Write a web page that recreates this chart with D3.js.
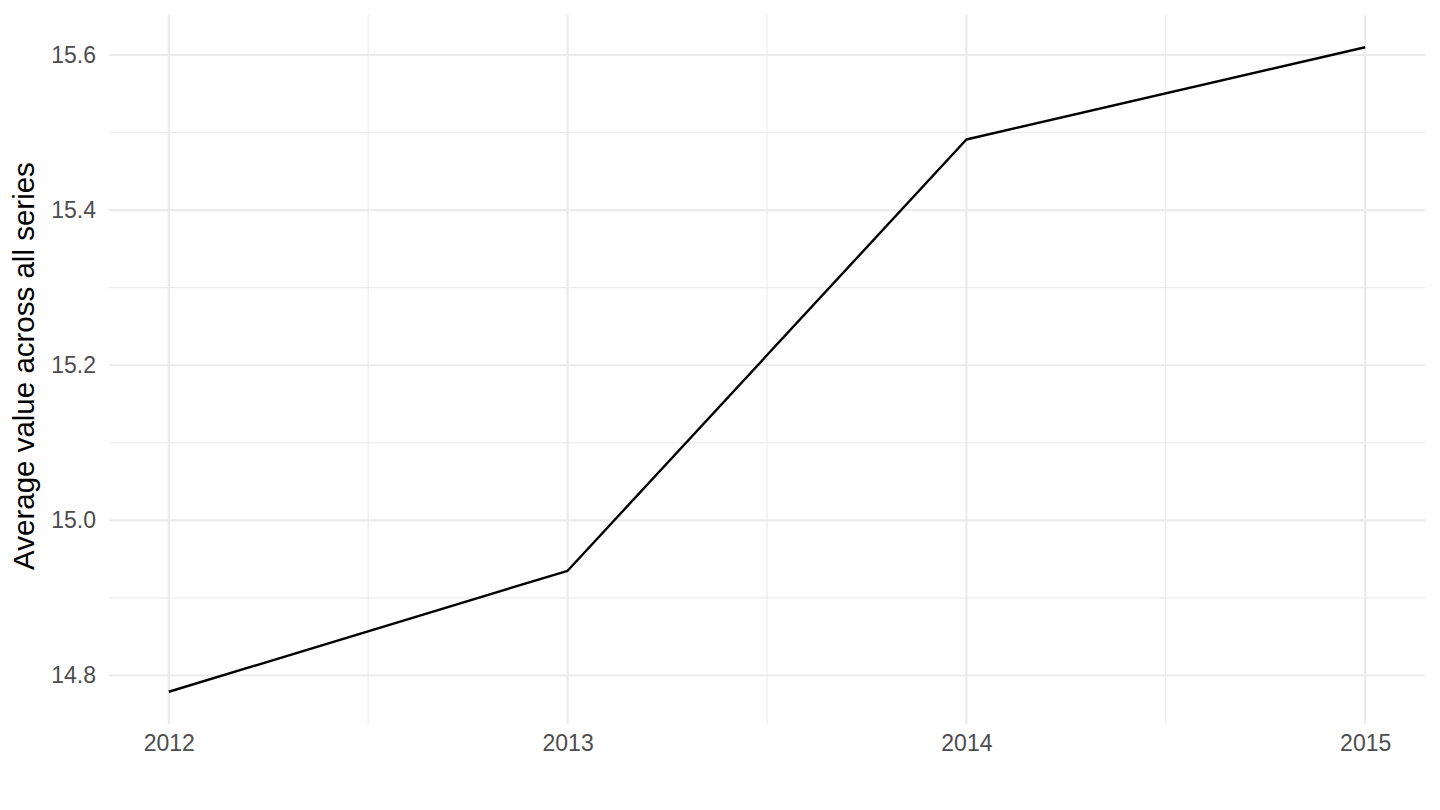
<!DOCTYPE html>
<html>
<head>
<meta charset="utf-8">
<script src="https://cdn.jsdelivr.net/npm/d3@7"></script>
<style>
  html, body { margin: 0; padding: 0; background: #fff; }
  svg { display: block; font-family: "Liberation Sans", Arial, sans-serif; }
</style>
</head>
<body>
<svg id="chart" width="1440" height="810"></svg>
<script>
const years = [2012, 2013, 2014, 2015];
const values = [14.779, 14.935, 15.491, 15.610];
const yTicks = [14.8, 15.0, 15.2, 15.4, 15.6];
const yMinor = [14.9, 15.1, 15.3, 15.5];
const xMinor = [2012.5, 2013.5, 2014.5];
const yLabel = "Average value across all series";

(function () {
const svg = d3.select("#chart");
const pLeft = 109, pRight = 1425, pTop = 15, pBottom = 724;

const xExt = d3.extent(years), xPad = (xExt[1] - xExt[0]) * 0.05;
const yExt = d3.extent(values), yPad = (yExt[1] - yExt[0]) * 0.05;
const x = d3.scaleLinear().domain([xExt[0] - xPad, xExt[1] + xPad]).range([pLeft, pRight]);
const y = d3.scaleLinear().domain([yExt[0] - yPad, yExt[1] + yPad]).range([pBottom, pTop]);

const g = svg.append("g");
// minor grid
g.selectAll(".ymin").data(yMinor).enter().append("line")
  .attr("x1", pLeft).attr("x2", pRight).attr("y1", d => y(d)).attr("y2", d => y(d))
  .attr("stroke", "#EBEBEB").attr("stroke-width", 1.1);
g.selectAll(".xmin").data(xMinor).enter().append("line")
  .attr("y1", pTop).attr("y2", pBottom).attr("x1", d => x(d)).attr("x2", d => x(d))
  .attr("stroke", "#EBEBEB").attr("stroke-width", 1.1);
// major grid
g.selectAll(".ymaj").data(yTicks).enter().append("line")
  .attr("x1", pLeft).attr("x2", pRight).attr("y1", d => y(d)).attr("y2", d => y(d))
  .attr("stroke", "#EBEBEB").attr("stroke-width", 2.2);
g.selectAll(".xmaj").data(years).enter().append("line")
  .attr("y1", pTop).attr("y2", pBottom).attr("x1", d => x(d)).attr("x2", d => x(d))
  .attr("stroke", "#EBEBEB").attr("stroke-width", 2.2);

// axes via d3 axis, with domain/ticks hidden
const yAxis = svg.append("g").attr("transform", `translate(${pLeft},0)`)
  .call(d3.axisLeft(y).tickValues(yTicks).tickFormat(d3.format(".1f")).tickSize(0).tickPadding(13));
const xAxis = svg.append("g").attr("transform", `translate(0,${pBottom})`)
  .call(d3.axisBottom(x).tickValues(years).tickFormat(d3.format("d")).tickSize(0).tickPadding(11));
[yAxis, xAxis].forEach(a => {
  a.select(".domain").remove();
  a.selectAll("text").attr("fill", "#4D4D4D").style("font-size", "23px")
    .style("font-family", "Liberation Sans, Arial, sans-serif");
});

// line
const line = d3.line().x((d, i) => x(years[i])).y(d => y(d));
svg.append("path").datum(values).attr("d", line)
  .attr("fill", "none").attr("stroke", "#000").attr("stroke-width", 2.4)
  .attr("stroke-linejoin", "round");

// y label
svg.append("text")
  .attr("transform", `translate(34,${(pTop + pBottom) / 2 - 3.5}) rotate(-90)`)
  .attr("text-anchor", "middle")
  .attr("fill", "#000").style("font-size", "29.5px")
  .text(yLabel);
})();
</script>
</body>
</html>
